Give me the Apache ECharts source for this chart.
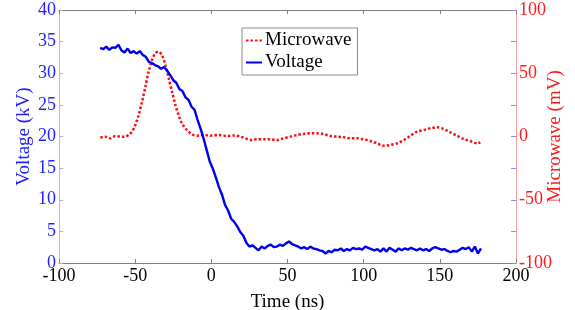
<!DOCTYPE html>
<html>
<head>
<meta charset="utf-8">
<script src="https://cdn.jsdelivr.net/npm/echarts@6/dist/echarts.min.js"></script>
<style>html,body{margin:0;padding:0;background:#fff;}#c{width:575px;height:310px;}</style>
</head>
<body>
<div id="c"></div>
<script>
const voltageT = [-73,-71,-69,-67,-65,-63,-61,-59,-57,-55,-53,-51,-49,-47,-45,-43,-41,-39,-37,-35,-33,-31,-29,-27,-25,-23,-21,-19,-17,-15,-13,-11,-9,-7,-5,-3,-1,1,3,5,7,9,11,13,15,17,19,21,23,25,27,29,31,33,35,37,39,41,43,45,47,49,51,53,55,57,59,61,63,65,67,69,71,73,75,77,79,81,83,85,87,89,91,93,95,97,99,101,103,105,107,109,111,113,115,117,119,121,123,125,127,129,131,133,135,137,139,141,143,145,147,149,151,153,155,157,159,161,163,165,167,169,171,173,175,177];
const voltageV = [34.0,33.8,34.2,33.7,34.1,34.0,34.5,33.6,33.3,33.9,33.2,33.5,33.1,33.5,32.9,32.6,31.8,31.6,31.3,31.1,30.7,31.0,30.4,29.7,28.9,28.5,27.5,27.2,26.2,25.8,24.7,24.2,22.6,21.2,19.6,17.8,16.0,14.9,13.5,12.0,10.8,9.2,8.3,7.0,6.5,5.8,4.9,4.3,3.2,2.6,2.8,2.4,2.0,2.6,2.3,2.7,2.9,2.5,2.6,2.9,2.7,3.1,3.4,3.0,2.8,2.6,2.3,2.5,2.2,2.6,2.3,2.2,2.0,1.9,1.5,1.9,1.7,2.1,2.0,2.3,1.9,2.2,2.0,2.4,2.2,2.3,2.1,2.6,2.4,2.2,2.0,2.2,1.8,2.3,1.8,2.4,2.1,1.8,2.3,2.0,2.3,2.1,2.4,2.2,2.0,2.3,2.0,2.2,1.9,2.3,2.5,2.3,2.1,2.2,1.9,1.7,1.9,1.8,2.1,2.4,2.2,2.5,1.8,2.6,1.5,2.3];
const microT = [-72.9,-69.6,-66.3,-63,-59.8,-56.5,-54.3,-52.1,-49.9,-47.7,-45.5,-43.3,-41.2,-38.9,-36.8,-34.6,-32.4,-30.2,-28,-25.8,-23.6,-21.5,-19.3,-16,-12.7,-9.4,-5.1,-0.7,4.8,10,15,19,22.3,25.6,30,34.3,38.7,43.1,47.5,51.9,56.3,60.6,65,69.4,73.7,78.1,82.5,86.9,91.3,95.7,100,104.4,108.8,113.1,117.5,121.9,126.3,130.7,135.1,139.4,143.8,148.2,152.5,156.9,161.3,165.7,170,174.4,176.6];
const microM = [-0.9,-0.1,-1.4,0.4,-0.1,-0.1,1.2,3.8,9.1,17,27.5,39.4,51.2,60.5,65.8,67,64.4,56.5,46,35.4,24.9,17,10.4,5.1,1.7,0.6,1.2,0.6,1.2,0.4,0.8,-0.1,-1.4,-2.8,-2.2,-2.2,-2.2,-2.8,-1.4,-0.1,1.2,2.0,2.5,2.5,2,0.4,-0.1,-0.6,-1.4,-1.4,-2.2,-3.6,-5.4,-7.3,-6.7,-5.4,-2.8,0.6,3.8,5.1,6.5,7.3,5.9,3.3,0.6,-2,-3.6,-5.4,-4.6];
const xTicks = [-100,-50,0,50,100,150,200];

const FONT = 'Liberation Serif';
const chart = echarts.init(document.getElementById('c'), null, {renderer:'canvas'});
const voltageData = voltageT.map((t,i)=>[t, voltageV[i]]);
const microData = microT.map((t,i)=>[t, microM[i]]);

chart.setOption({
  animation:false,
  textStyle:{fontFamily:FONT},
  grid:{left:59, right:59, top:10, bottom:47, containLabel:false, outerBoundsMode:'none'},
  legend:{
    orient:'vertical', left:242, top:28,
    data:['Microwave','Voltage'],
    borderColor:'#8a8a8a', borderWidth:1, backgroundColor:'#fff', borderRadius:0,
    padding:[3,6,3,3], itemGap:3, itemWidth:16, itemHeight:10,
    itemStyle:{opacity:0},
    textStyle:{fontFamily:FONT, fontSize:19, color:'#000', padding:[0,0,0,-2]}
  },
  xAxis:[{
    type:'value', min:xTicks[0], max:xTicks[xTicks.length-1], interval:50,
    name:'Time (ns)', nameLocation:'middle', nameGap:30,
    nameTextStyle:{fontFamily:FONT, fontSize:19, color:'#000'},
    axisLine:{onZero:false, lineStyle:{color:'#808080', width:1}},
    axisTick:{inside:true, length:4, lineStyle:{color:'#808080'}},
    axisLabel:{fontFamily:FONT, fontSize:18, color:'#000', margin:4},
    splitLine:{show:false}
  },{
    type:'value', position:'top', min:-100, max:200, interval:50,
    axisLine:{show:true, onZero:false, lineStyle:{color:'#808080', width:1}},
    axisTick:{inside:true, length:4, lineStyle:{color:'#808080'}},
    axisLabel:{show:false}, splitLine:{show:false}
  }],
  yAxis:[{
    type:'value', min:0, max:40, interval:5, position:'left',
    name:'Voltage (kV)', nameLocation:'middle', nameGap:25, nameRotate:90, nameMoveOverlap:false,
    nameTextStyle:{fontFamily:FONT, fontSize:19, color:'#2222ff'},
    axisLine:{show:true, onZero:false, lineStyle:{color:'#b8b8f4', width:1}},
    axisTick:{show:true, inside:true, length:4, lineStyle:{color:'#b0b0d8'}},
    axisLabel:{fontFamily:FONT, fontSize:18, color:'#2222ff', margin:3},
    splitLine:{show:false}
  },{
    type:'value', min:-100, max:100, interval:50, position:'right',
    name:'Microwave (mV)', nameLocation:'middle', nameGap:30, nameRotate:90, nameMoveOverlap:false,
    nameTextStyle:{fontFamily:FONT, fontSize:19, color:'#ff1a1a'},
    axisLine:{show:true, onZero:false, lineStyle:{color:'#f4a0a0', width:1}},
    axisTick:{show:false},
    axisLabel:{fontFamily:FONT, fontSize:18, color:'#ff1a1a', margin:3},
    splitLine:{show:false}
  },{
    type:'value', min:-100, max:100, interval:25, position:'right',
    axisLine:{show:false, onZero:false},
    axisTick:{show:true, inside:true, length:5, lineStyle:{color:'#8888e8'}},
    axisLabel:{show:false}, splitLine:{show:false}
  }],
  series:[{
    name:'Microwave', type:'line', yAxisIndex:1, xAxisIndex:0, data:microData,
    symbol:'none', smooth:0.3,
    lineStyle:{color:'#ff1010', width:2.5, type:[2.5,2], cap:'butt'},
    itemStyle:{color:'#ff1010'}, z:2
  },{
    name:'Voltage', type:'line', yAxisIndex:0, xAxisIndex:0, data:voltageData,
    symbol:'none',
    lineStyle:{color:'#0000f0', width:2.4},
    itemStyle:{color:'#0000f0'}, z:3
  }]
});
</script>
</body>
</html>
